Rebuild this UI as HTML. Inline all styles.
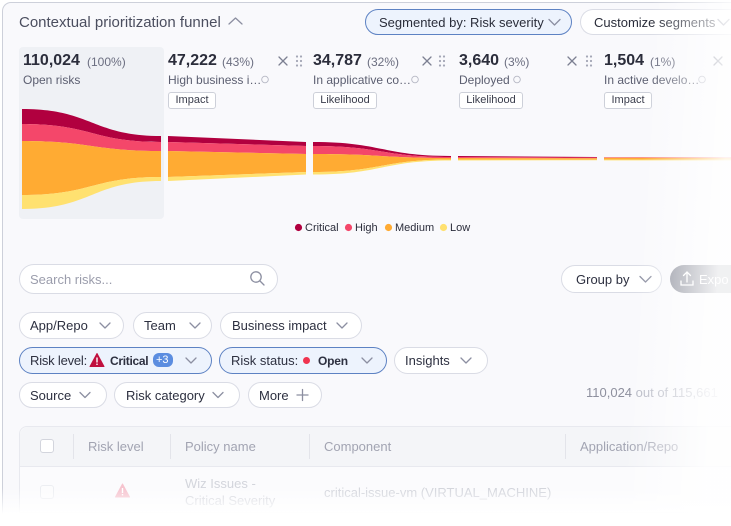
<!DOCTYPE html>
<html><head><meta charset="utf-8">
<style>
*{margin:0;padding:0;box-sizing:border-box}
html,body{width:731px;height:526px;overflow:hidden;background:#fff}
body{font-family:"Liberation Sans",sans-serif;color:#2d3040}
#root{position:relative;width:731px;height:526px;overflow:hidden;background:#fff}
.abs{position:absolute}
.t{position:absolute;white-space:nowrap;line-height:1}
.card{position:absolute;left:2px;top:2px;width:729px;height:524px;border:1px solid #cdd0da;border-right:none;border-bottom:none;border-radius:9px 0 0 0;background:#f9f9fc}
.p1{position:absolute;left:19px;top:47px;width:145px;height:172px;background:#eff1f5;border-radius:4px}
.num{font-size:16px;font-weight:700;color:#2b2d3b}
.pct{font-size:12px;color:#6b6e80}
.lab{font-size:12px;color:#5b5e70}
.tag{position:absolute;top:92px;height:17px;border:1px solid #cdd0d9;border-radius:3px;background:#fff;font-size:11px;line-height:15px;text-align:center;color:#3a3d4c}
.pill{position:absolute;border:1px solid #dadce5;border-radius:14px;background:#fff;font-size:13px;color:#2d3040}
.blue{background:#edf3fd;border-color:#5d82c3}
.leg{font-size:11px;color:#2b2d3b}
.th{font-size:13px;color:#a2a4b2}
.tr{font-size:13px;color:#d3d5dc}
</style></head>
<body><div id="root">
<div class="card"></div>
<div class="p1"></div>

<!-- header -->
<div class="t" style="left:19px;top:14.8px;font-size:15px;color:#4b4e5f">Contextual prioritization funnel</div>
<div class="pill blue" style="left:365px;top:9px;width:207px;height:26px;border-radius:13px"></div>
<div class="t" style="left:379px;top:16px;font-size:13px;color:#2a2d3a">Segmented by: Risk severity</div>
<div class="pill" style="left:580px;top:9px;width:151px;height:26px;border-radius:13px 0 0 13px;border-right:none"></div>
<div class="t" style="left:594px;top:16px;font-size:13px;color:#2a2d3a">Customize segments</div>

<!-- columns -->
<div class="t num" style="left:23px;top:52.5px">110,024</div>
<div class="t pct" style="left:87px;top:55.8px">(100%)</div>
<div class="t lab" style="left:23px;top:73.8px">Open risks</div>

<div class="t num" style="left:168px;top:52.5px">47,222</div>
<div class="t pct" style="left:222px;top:55.8px">(43%)</div>
<div class="t lab" style="left:168px;top:73.8px">High business i…</div>
<div class="tag" style="left:168px;width:48px">Impact</div>

<div class="t num" style="left:313px;top:52.5px">34,787</div>
<div class="t pct" style="left:367px;top:55.8px">(32%)</div>
<div class="t lab" style="left:313px;top:73.8px">In applicative co…</div>
<div class="tag" style="left:313px;width:64px">Likelihood</div>

<div class="t num" style="left:459px;top:52.5px">3,640</div>
<div class="t pct" style="left:504px;top:55.8px">(3%)</div>
<div class="t lab" style="left:459px;top:73.8px">Deployed</div>
<div class="tag" style="left:459px;width:64px">Likelihood</div>

<div class="t num" style="left:604px;top:52.5px">1,504</div>
<div class="t pct" style="left:650px;top:55.8px">(1%)</div>
<div class="t lab" style="left:604px;top:73.8px">In active develo…</div>
<div class="tag" style="left:604px;width:48px">Impact</div>

<!-- legend -->
<div class="t leg" style="left:305px;top:222.5px">Critical</div>
<div class="t leg" style="left:355px;top:222.5px">High</div>
<div class="t leg" style="left:395px;top:222.5px">Medium</div>
<div class="t leg" style="left:450px;top:222.5px">Low</div>

<!-- search / group -->
<div class="pill" style="left:19px;top:264px;width:259px;height:30px;border-radius:15px"></div>
<div class="t" style="left:30px;top:272.5px;font-size:13px;color:#9b9dac">Search risks...</div>
<div class="pill" style="left:561px;top:265px;width:101px;height:28px"></div>
<div class="t" style="left:576px;top:272.5px;font-size:13px">Group by</div>
<div class="abs" style="left:670px;top:265px;width:61px;height:28px;border-radius:14px 0 0 14px;background:#868996"></div>
<div class="t" style="left:699px;top:272.5px;font-size:13px;color:#fff">Expo</div>

<!-- filter pills -->
<div class="pill" style="left:19px;top:312px;width:105px;height:27px"></div>
<div class="t" style="left:30px;top:319px;font-size:13px">App/Repo</div>
<div class="pill" style="left:133px;top:312px;width:79px;height:27px"></div>
<div class="t" style="left:144px;top:319px;font-size:13px">Team</div>
<div class="pill" style="left:220px;top:312px;width:142px;height:27px"></div>
<div class="t" style="left:232px;top:319px;font-size:13px">Business impact</div>

<div class="pill blue" style="left:19px;top:347px;width:193px;height:27px"></div>
<div class="t" style="left:30px;top:354px;font-size:13px;letter-spacing:-0.2px">Risk level:</div>
<div class="t" style="left:110px;top:354.5px;font-size:12px;font-weight:700;letter-spacing:-0.3px">Critical</div>
<div class="abs" style="left:153px;top:353px;width:20px;height:14px;border-radius:6px;background:#5b8de0"></div>
<div class="t" style="left:156px;top:355px;font-size:11px;color:#fff">+3</div>
<div class="pill blue" style="left:219px;top:347px;width:168px;height:27px"></div>
<div class="t" style="left:231px;top:354px;font-size:13px">Risk status:</div>
<div class="t" style="left:318px;top:354.5px;font-size:12px;font-weight:700;letter-spacing:-0.2px">Open</div>
<div class="pill" style="left:394px;top:347px;width:94px;height:27px"></div>
<div class="t" style="left:405px;top:354px;font-size:13px">Insights</div>

<div class="pill" style="left:19px;top:382px;width:88px;height:26px"></div>
<div class="t" style="left:30px;top:388.5px;font-size:13px">Source</div>
<div class="pill" style="left:114px;top:382px;width:126px;height:26px"></div>
<div class="t" style="left:126px;top:388.5px;font-size:13px">Risk category</div>
<div class="pill" style="left:248px;top:382px;width:74px;height:26px"></div>
<div class="t" style="left:259px;top:388.5px;font-size:13px">More</div>

<div class="t" style="left:586px;top:386px;font-size:13px;color:#8e909e">110,024 <span style="color:#b4b6c2">out of 115,661</span></div>

<!-- table -->
<div class="abs" style="left:19px;top:426px;width:712px;height:87px;border:1px solid #e8e9ef;border-right:none;border-radius:8px 0 0 0;background:#fbfbfd"></div>
<div class="abs" style="left:20px;top:427px;width:711px;height:40px;border-bottom:1px solid #e8e9ef;border-radius:8px 0 0 0;background:#f4f5f8"></div>
<div class="abs" style="left:40px;top:439px;width:14px;height:14px;border:1px solid #d3d5dd;border-radius:3px;background:#fff"></div>
<div class="abs" style="left:40px;top:485px;width:14px;height:14px;border:1px solid #eceef2;border-radius:3px;background:#fcfcfd"></div>
<div class="abs" style="left:73px;top:434px;width:1px;height:25px;background:#e3e4ea"></div>
<div class="abs" style="left:170px;top:434px;width:1px;height:25px;background:#e3e4ea"></div>
<div class="abs" style="left:309px;top:434px;width:1px;height:25px;background:#e3e4ea"></div>
<div class="abs" style="left:565px;top:434px;width:1px;height:25px;background:#e3e4ea"></div>
<div class="t th" style="left:88px;top:439.5px">Risk level</div>
<div class="t th" style="left:185px;top:439.5px">Policy name</div>
<div class="t th" style="left:324px;top:439.5px">Component</div>
<div class="t th" style="left:580px;top:439.5px">Application/Repo</div>
<div class="t tr" style="left:185px;top:476.5px">Wiz Issues -</div>
<div class="t tr" style="left:185px;top:493.5px">Critical Severity</div>
<div class="t tr" style="left:324px;top:485.5px">critical-issue-vm (VIRTUAL_MACHINE)</div>

<svg class="abs" style="left:0;top:0" width="731" height="526" viewBox="0 0 731 526">
<!-- funnel seg1 -->
<path d="M22,109 C92,109 92,136 161,136 L161,142 C92,142 92,124 22,124 Z" fill="#b1003f"/>
<path d="M22,124 C92,124 92,142 161,142 L161,151 C92,151 92,141 22,141 Z" fill="#f4476a"/>
<path d="M22,141 C92,141 92,151 161,151 L161,177 C92,177 92,195 22,195 Z" fill="#ffab33"/>
<path d="M22,195 C92,195 92,177 161,177 L161,181 C92,181 92,209 22,209 Z" fill="#ffe170"/>
<!-- seg2 -->
<path d="M168,136 L306,142 L306,146 L168,142 Z" fill="#b1003f"/>
<path d="M168,142 L306,146 L306,154 L168,151 Z" fill="#f4476a"/>
<path d="M168,151 L306,154 L306,172 L168,177 Z" fill="#ffab33"/>
<path d="M168,177 L306,172 L306,174.5 L168,181 Z" fill="#ffe170"/>
<!-- seg3 -->
<path d="M313,142 C382,142 382,156 451,156 L451,157 C382,157 382,146 313,146 Z" fill="#b1003f"/>
<path d="M313,146 C382,146 382,157 451,157 L451,158 C382,158 382,154 313,154 Z" fill="#f4476a"/>
<path d="M313,154 C382,154 382,158 451,158 L451,159.5 C382,159.5 382,172 313,172 Z" fill="#ffab33"/>
<path d="M313,172 C382,172 382,159.5 451,159.5 L451,160.5 C382,160.5 382,174.5 313,174.5 Z" fill="#ffe170"/>
<!-- seg4 -->
<path d="M458,156 L597,157 L597,157.6 L458,157 Z" fill="#b1003f"/>
<path d="M458,157 L597,157.6 L597,158.3 L458,158 Z" fill="#f4476a"/>
<path d="M458,158 L597,158.3 L597,159.6 L458,159.5 Z" fill="#ffab33"/>
<path d="M458,159.5 L597,159.6 L597,160.2 L458,160.5 Z" fill="#ffe170"/>
<!-- seg5 -->
<rect x="604" y="157" width="127" height="0.8" fill="#f4476a" opacity="0.7"/>
<rect x="604" y="157.8" width="127" height="1.8" fill="#ffab33"/>
<rect x="604" y="159.6" width="127" height="0.8" fill="#ffe170"/>

<!-- legend dots -->
<circle cx="298.5" cy="227.5" r="3.6" fill="#b1003f"/>
<circle cx="348.5" cy="227.5" r="3.6" fill="#f4476a"/>
<circle cx="388.5" cy="227.5" r="3.6" fill="#ffab33"/>
<circle cx="443.5" cy="227.5" r="3.6" fill="#ffe170"/>

<g fill="none" stroke="#8c8fa1" stroke-width="1.3" stroke-linecap="round" stroke-linejoin="round">
<polyline points="229,24 235.5,18 242,24"/>
<polyline points="549,19.5 554.5,25 560,19.5"/>
<polyline points="718,19.5 723.5,25 729,19.5"/>
<polyline points="640,276.5 645.5,282 651,276.5"/>
<polyline points="100,323 105,328 110,323"/>
<polyline points="190,323 195,328 200,323"/>
<polyline points="337,323 342,328 347,323"/>
<polyline points="186,358 191,363 196,358"/>
<polyline points="362,358 367,363 372,358"/>
<polyline points="461,358 466,363 471,358"/>
<polyline points="80,392.5 85,397.5 90,392.5"/>
<polyline points="213,392.5 218,397.5 223,392.5"/>
<line x1="302.5" y1="389.5" x2="302.5" y2="400.5"/>
<line x1="297" y1="395" x2="308" y2="395"/>
<circle cx="256" cy="277" r="5.2"/>
<line x1="260" y1="281" x2="264" y2="285"/>
</g>
<g stroke="#7d8092" stroke-width="1.3" stroke-linecap="round">
<line x1="279" y1="57" x2="287" y2="65"/><line x1="287" y1="57" x2="279" y2="65"/>
<line x1="423" y1="57" x2="431" y2="65"/><line x1="431" y1="57" x2="423" y2="65"/>
<line x1="568" y1="57" x2="576" y2="65"/><line x1="576" y1="57" x2="568" y2="65"/>
<line x1="714" y1="57" x2="722" y2="65"/><line x1="722" y1="57" x2="714" y2="65"/>
</g>
<g fill="#a3a6b5">
<circle cx="297" cy="56.5" r="1.1"/><circle cx="301" cy="56.5" r="1.1"/><circle cx="297" cy="61" r="1.1"/><circle cx="301" cy="61" r="1.1"/><circle cx="297" cy="65.5" r="1.1"/><circle cx="301" cy="65.5" r="1.1"/>
<circle cx="440" cy="56.5" r="1.1"/><circle cx="444" cy="56.5" r="1.1"/><circle cx="440" cy="61" r="1.1"/><circle cx="444" cy="61" r="1.1"/><circle cx="440" cy="65.5" r="1.1"/><circle cx="444" cy="65.5" r="1.1"/>
<circle cx="587" cy="56.5" r="1.1"/><circle cx="591" cy="56.5" r="1.1"/><circle cx="587" cy="61" r="1.1"/><circle cx="591" cy="61" r="1.1"/><circle cx="587" cy="65.5" r="1.1"/><circle cx="591" cy="65.5" r="1.1"/>
</g>
<g fill="none" stroke="#b6b8c4" stroke-width="0.9">
<circle cx="265" cy="79.5" r="3.3"/><circle cx="415" cy="79.5" r="3.3"/><circle cx="517" cy="79.5" r="3.3"/><circle cx="702" cy="79.5" r="3.3"/>
</g>
<path d="M97,353.5 L104,366.5 L90,366.5 Z" fill="#c0103f" stroke="#c0103f" stroke-width="1" stroke-linejoin="round"/>
<rect x="96.3" y="357.5" width="1.4" height="5" fill="#fff"/>
<rect x="96.3" y="363.6" width="1.4" height="1.4" fill="#fff"/>
<circle cx="306.5" cy="360.5" r="3.5" fill="#f0334f"/>
<g fill="none" stroke="#fff" stroke-width="1.3" stroke-linecap="round">
<polyline points="681,281 681,285 693,285 693,281"/>
<line x1="687" y1="272" x2="687" y2="282"/>
<polyline points="683.5,275.5 687,272 690.5,275.5"/>
</g>
<path d="M122.5,484 L129.5,497 L115.5,497 Z" fill="#f6c4cf" stroke="#f6c4cf" stroke-width="1" stroke-linejoin="round"/>
<rect x="121.8" y="488" width="1.4" height="5" fill="#fff"/>
<rect x="121.8" y="494" width="1.4" height="1.4" fill="#fff"/>

<defs>
<linearGradient id="gr" gradientUnits="userSpaceOnUse" x1="648" y1="60" x2="731" y2="65">
<stop offset="0" stop-color="#fff" stop-opacity="0"/>
<stop offset="0.5" stop-color="#fff" stop-opacity="0.45"/>
<stop offset="1" stop-color="#fff" stop-opacity="0.88"/>
</linearGradient>
<linearGradient id="gb" gradientUnits="userSpaceOnUse" x1="0" y1="488" x2="0" y2="514">
<stop offset="0" stop-color="#fff" stop-opacity="0"/>
<stop offset="1" stop-color="#fff" stop-opacity="1"/>
</linearGradient>
</defs>
<rect x="0" y="0" width="731" height="526" fill="url(#gr)"/>
<rect x="0" y="488" width="731" height="38" fill="url(#gb)"/>
</svg>
</div></body></html>
